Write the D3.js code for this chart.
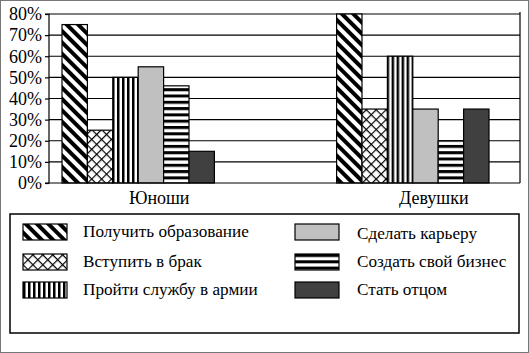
<!DOCTYPE html>
<html>
<head>
<meta charset="utf-8">
<script src="https://cdn.jsdelivr.net/npm/d3@7"></script>
<style>
  body { margin: 0; background: #fff; }
  #chart text { font-family: "Liberation Serif", serif !important; }
</style>
</head>
<body>
<div id="chart"><svg id="s"></svg></div>
<script>
// Data
const groups = ["Юноши", "Девушки"];
const seriesNames = [
  "Получить образование",
  "Вступить в брак",
  "Пройти службу в армии",
  "Сделать карьеру",
  "Создать свой бизнес",
  "Стать отцом"
];
const boysValues = [75, 25, 50, 55, 46, 15];
const girlsValues = [80, 35, 60, 35, 20, 35];
const yTicks = [0, 10, 20, 30, 40, 50, 60, 70, 80];

const width = 529, height = 353;
const serif = "Liberation Serif";

const svg = d3.select("#s")
  .attr("width", width)
  .attr("height", height)
  .attr("font-family", serif);

// Fill patterns, one per series
const defs = svg.append("defs");

// wide diagonal stripes "\\\"
const p1 = defs.append("pattern").attr("id", "p0")
  .attr("patternUnits", "userSpaceOnUse").attr("width", 8).attr("height", 8)
  .attr("patternTransform", "rotate(-45)");
p1.append("rect").attr("width", 8).attr("height", 8).attr("fill", "#fff");
p1.append("rect").attr("width", 4).attr("height", 8).attr("fill", "#000");

// diagonal crosshatch
const p2 = defs.append("pattern").attr("id", "p1")
  .attr("patternUnits", "userSpaceOnUse").attr("width", 7).attr("height", 7)
  .attr("patternTransform", "rotate(45)");
p2.append("rect").attr("width", 7).attr("height", 7).attr("fill", "#fff");
p2.append("rect").attr("width", 1.2).attr("height", 7).attr("fill", "#000");
p2.append("rect").attr("width", 7).attr("height", 1.2).attr("fill", "#000");

// vertical stripes
const p3 = defs.append("pattern").attr("id", "p2")
  .attr("patternUnits", "userSpaceOnUse").attr("width", 5).attr("height", 5);
p3.append("rect").attr("width", 5).attr("height", 5).attr("fill", "#fff");
p3.append("rect").attr("width", 2.5).attr("height", 5).attr("fill", "#000");

// horizontal stripes
const p5 = defs.append("pattern").attr("id", "p4")
  .attr("patternUnits", "userSpaceOnUse").attr("width", 6).attr("height", 6.3);
p5.append("rect").attr("width", 6).attr("height", 6.3).attr("fill", "#fff");
p5.append("rect").attr("width", 6).attr("height", 3).attr("fill", "#000");

const fills = ["url(#p0)", "url(#p1)", "url(#p2)", "#c0c0c0", "url(#p4)", "#404040"];

// outer frame
svg.append("rect")
  .attr("x", 0.5).attr("y", 0.5)
  .attr("width", width - 1).attr("height", height - 1)
  .attr("fill", "none").attr("stroke", "#777").attr("stroke-width", 1);

const plot = { left: 49, right: 520, top: 14, bottom: 183 };

const y = d3.scaleLinear().domain([0, 80]).range([plot.bottom, plot.top]);

const x0 = d3.scaleBand()
  .domain(groups)
  .range([62, 489])
  .paddingInner(0.445);

const x1 = d3.scaleBand()
  .domain(seriesNames)
  .range([0, x0.bandwidth()]);

// gridlines
svg.append("g")
  .selectAll("line")
  .data(yTicks.filter(d => d > 0))
  .join("line")
  .attr("x1", plot.left).attr("x2", plot.right)
  .attr("y1", d => y(d)).attr("y2", d => y(d))
  .attr("stroke", "#000").attr("stroke-width", 1.2);

// right border line of plot
svg.append("line")
  .attr("x1", plot.right).attr("x2", plot.right)
  .attr("y1", plot.top - 2).attr("y2", plot.bottom)
  .attr("stroke", "#000").attr("stroke-width", 1.2);

// bars
const data = groups.map((g, i) => ({
  group: g,
  values: (i === 0 ? boysValues : girlsValues).map((v, j) => ({ name: seriesNames[j], value: v, idx: j }))
}));

svg.append("g")
  .selectAll("g")
  .data(data)
  .join("g")
  .attr("transform", d => `translate(${x0(d.group)},0)`)
  .selectAll("rect")
  .data(d => d.values)
  .join("rect")
  .attr("x", d => x1(d.name))
  .attr("width", x1.bandwidth())
  .attr("y", d => y(d.value))
  .attr("height", d => y(0) - y(d.value))
  .attr("fill", d => fills[d.idx])
  .attr("stroke", "#000")
  .attr("stroke-width", 1.2);

// y axis
const yAxis = d3.axisLeft(y)
  .tickValues(yTicks)
  .tickFormat(d => d + "%")
  .tickSize(4)
  .tickPadding(3);

const yg = svg.append("g")
  .attr("transform", `translate(${plot.left},0)`)
  .call(yAxis)
  .attr("font-family", serif)
  .attr("font-size", 18);
yg.select(".domain").attr("stroke", "#000").attr("stroke-width", 1.2)
  .attr("d", `M-4,${plot.top}H0V${plot.bottom}H-4`);
yg.selectAll(".tick line").attr("stroke", "#000").attr("stroke-width", 1.2);
yg.selectAll(".tick text")
  .attr("font-family", serif)
  .attr("fill", "#000");

// x axis baseline
svg.append("line")
  .attr("x1", plot.left).attr("x2", plot.right)
  .attr("y1", plot.bottom).attr("y2", plot.bottom)
  .attr("stroke", "#000").attr("stroke-width", 1.2);

// group labels
svg.append("g")
  .selectAll("text")
  .data(groups)
  .join("text")
  .attr("x", d => x0(d) + x0.bandwidth() / 2 + 21)
  .attr("y", 204)
  .attr("text-anchor", "middle")
  .attr("font-family", serif)
  .attr("font-size", 18)
  .text(d => d);

// legend
svg.append("rect")
  .attr("x", 10).attr("y", 214)
  .attr("width", 509).attr("height", 119)
  .attr("fill", "#fff").attr("stroke", "#000").attr("stroke-width", 1.5);

const legendCols = [
  { sx: 23, tx: 83 },
  { sx: 295, tx: 357 }
];
const rowY = [224, 254, 282];

const legend = svg.append("g")
  .selectAll("g")
  .data(seriesNames)
  .join("g")
  .attr("transform", (d, i) => {
    const c = legendCols[Math.floor(i / 3)];
    return `translate(${c.sx},${rowY[i % 3]})`;
  });

legend.append("rect")
  .attr("width", 44).attr("height", 16)
  .attr("fill", (d, i) => fills[i])
  .attr("stroke", "#000").attr("stroke-width", 1.2);

legend.append("text")
  .attr("x", (d, i) => legendCols[Math.floor(i / 3)].tx - legendCols[Math.floor(i / 3)].sx)
  .attr("y", (d, i) => i === 3 ? 15 : 13)
  .attr("font-family", serif)
  .attr("font-size", 17.2)
  .text(d => d);
</script>
</body>
</html>
